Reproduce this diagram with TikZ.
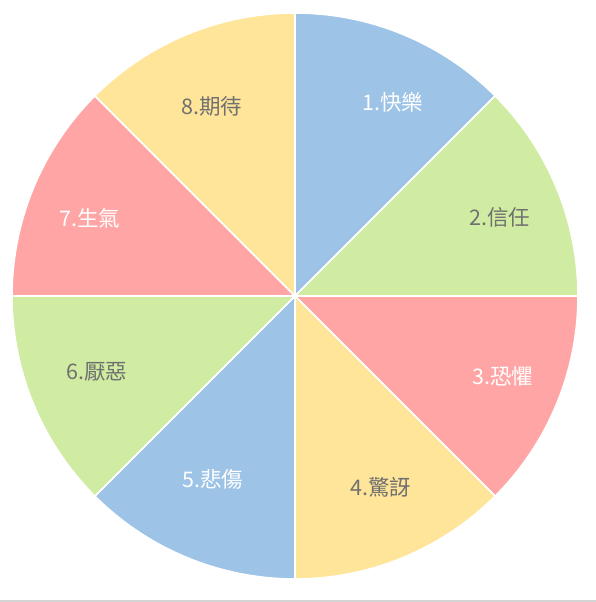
\documentclass[tikz,border=0pt]{standalone}
\usepackage{fontspec}
\newfontfamily\cjk{Noto Sans CJK TC}
\definecolor{pblue}{HTML}{9DC3E6}
\definecolor{pgreen}{HTML}{CFECA2}
\definecolor{pred}{HTML}{FFA5A5}
\definecolor{pyellow}{HTML}{FFE599}
\definecolor{lbl}{HTML}{707070}
\definecolor{gline}{HTML}{D4D4D4}
\tikzset{
  slice/.style={draw=white, line width=1.6pt, line join=round},
  lab/.style={font=\cjk\fontsize{21.5}{24}\selectfont, inner sep=0pt},
  darklab/.style={lab, text=lbl},
  lightlab/.style={lab, text=white}
}
\begin{document}
\begin{tikzpicture}[x=1pt,y=1pt]
\useasboundingbox (0,0) rectangle (596,602);
\fill[white] (0,0) rectangle (596,602);
\coordinate (c) at (295,306);
\def\R{283}
\foreach \k/\col in {1/pblue,2/pgreen,3/pred,4/pyellow,5/pblue,6/pgreen,7/pred,8/pyellow}{
  \pgfmathsetmacro\a{90-45*(\k-1)}
  \pgfmathsetmacro\b{90-45*\k}
  \filldraw[slice, fill=\col] (c) -- ++(\a:\R) arc[start angle=\a, end angle=\b, radius=\R] -- cycle;
}
\fill[gline] (0,0) rectangle (596,2);
\node[lightlab] (l1) at (393,500) {1.快樂};
\node[darklab]  (l2) at (500,385) {2.信任};
\node[lightlab] (l3) at (503,226) {3.恐懼};
\node[darklab]  (l4) at (381,115) {4.驚訝};
\node[lightlab] (l5) at (213,123) {5.悲傷};
\node[darklab]  (l6) at (97,230) {6.厭惡};
\node[lightlab] (l7) at (90,384) {7.生氣};
\node[darklab]  (l8) at (212,496) {8.期待};
\end{tikzpicture}
\end{document}
